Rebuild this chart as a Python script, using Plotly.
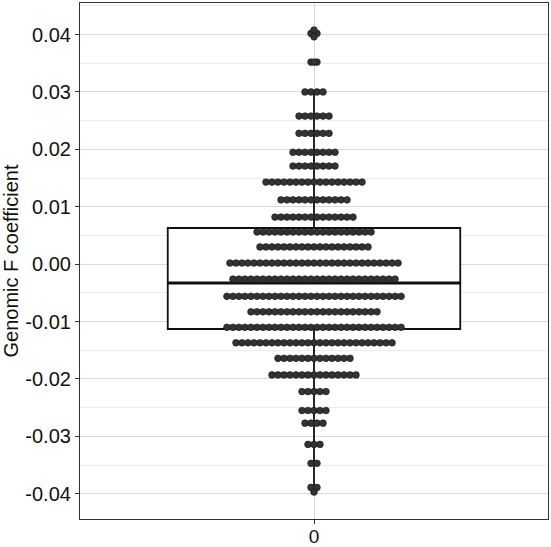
import plotly.graph_objects as go

# ---------------- data ----------------
# dot-plot bins: bin centre (y value) and number of stacked dots
bin_centers = [0.0402, 0.0352, 0.0300, 0.0258, 0.0228, 0.0195, 0.0171, 0.0143,
               0.0112, 0.0082, 0.0056, 0.0030, 0.0002, -0.0026, -0.0056, -0.0083,
               -0.0110, -0.0137, -0.0164, -0.0193, -0.0222, -0.0255, -0.0277,
               -0.0314, -0.0347, -0.0389]
bin_counts = [2, 2, 4, 6, 6, 8, 8, 17,
              12, 14, 20, 19, 29, 28, 30, 22,
              30, 27, 13, 15, 5, 5, 4,
              3, 2, 2]
# boxplot statistics
box_q1 = -0.0113
box_median = -0.0033
box_q3 = 0.0063
box_lower = -0.0394
box_upper = 0.0300
outliers = [0.0408, 0.0396, 0.0352, -0.0397]

category_label = "0"
y_tickvals = [-0.04, -0.03, -0.02, -0.01, 0.0, 0.01, 0.02, 0.03, 0.04]
y_ticktext = ["-0.04", "-0.03", "-0.02", "-0.01", "0.00", "0.01", "0.02", "0.03", "0.04"]
y_title = "Genomic F coefficient"

# ---------------- layout helpers ----------------
dot_step = 0.0154      # horizontal stacking step (x units)
box_width = 0.75

dot_x, dot_y = [], []
for yc, n in zip(bin_centers, bin_counts):
    for i in range(n):
        dot_x.append((i - (n - 1) / 2) * dot_step)
        dot_y.append(yc)

fig = go.Figure()

fig.add_trace(go.Box(
    x=[0], q1=[box_q1], median=[box_median], q3=[box_q3],
    lowerfence=[box_lower], upperfence=[box_upper],
    width=box_width, whiskerwidth=0, boxpoints=False,
    fillcolor="white", line=dict(color="#111111", width=1.8),
    showlegend=False, hoverinfo="skip",
))

# thicker median bar
fig.add_trace(go.Scatter(
    x=[-box_width / 2, box_width / 2], y=[box_median, box_median],
    mode="lines", line=dict(color="#111111", width=3),
    showlegend=False, hoverinfo="skip",
))

marker_style = dict(size=6.7, color="#333333", line=dict(color="#151515", width=0.6))

fig.add_trace(go.Scatter(
    x=dot_x, y=dot_y, mode="markers", marker=marker_style,
    showlegend=False, hoverinfo="skip",
))
fig.add_trace(go.Scatter(
    x=[0] * len(outliers), y=outliers, mode="markers", marker=marker_style,
    showlegend=False, hoverinfo="skip",
))

axis_font = dict(family="Liberation Sans, Arial, sans-serif", size=20, color="#111111")
xaxis_font = dict(family="Liberation Sans, Arial, sans-serif", size=19, color="#111111")

fig.update_layout(
    width=551, height=547,
    margin=dict(l=80, r=3, t=3, b=28),
    paper_bgcolor="white", plot_bgcolor="white",
    xaxis=dict(
        range=[-0.6, 0.6], tickvals=[0], ticktext=[category_label],
        showgrid=True, gridcolor="#d9d9d9", gridwidth=1.2, zeroline=False,
        showline=True, linecolor="#333333", linewidth=1.2, mirror=True,
        ticks="outside", ticklen=4, tickcolor="#333333", tickfont=xaxis_font,
        ticklabelstandoff=-4,
        automargin=False,
    ),
    yaxis=dict(
        range=[-0.0444, 0.0455], tickvals=y_tickvals, ticktext=y_ticktext,
        showgrid=True, gridcolor="#d9d9d9", gridwidth=1.2, zeroline=False,
        minor=dict(dtick=0.005, tick0=0, showgrid=True, gridcolor="#ececec", gridwidth=0.8),
        showline=True, linecolor="#333333", linewidth=1.2, mirror=True,
        ticks="outside", ticklen=4, tickcolor="#333333", tickfont=axis_font,
        automargin=False,
        title=dict(text=y_title, font=dict(family="Liberation Sans, Arial, sans-serif", size=20, color="#111111"), standoff=6),
    ),
)

fig.write_html("out.html")
